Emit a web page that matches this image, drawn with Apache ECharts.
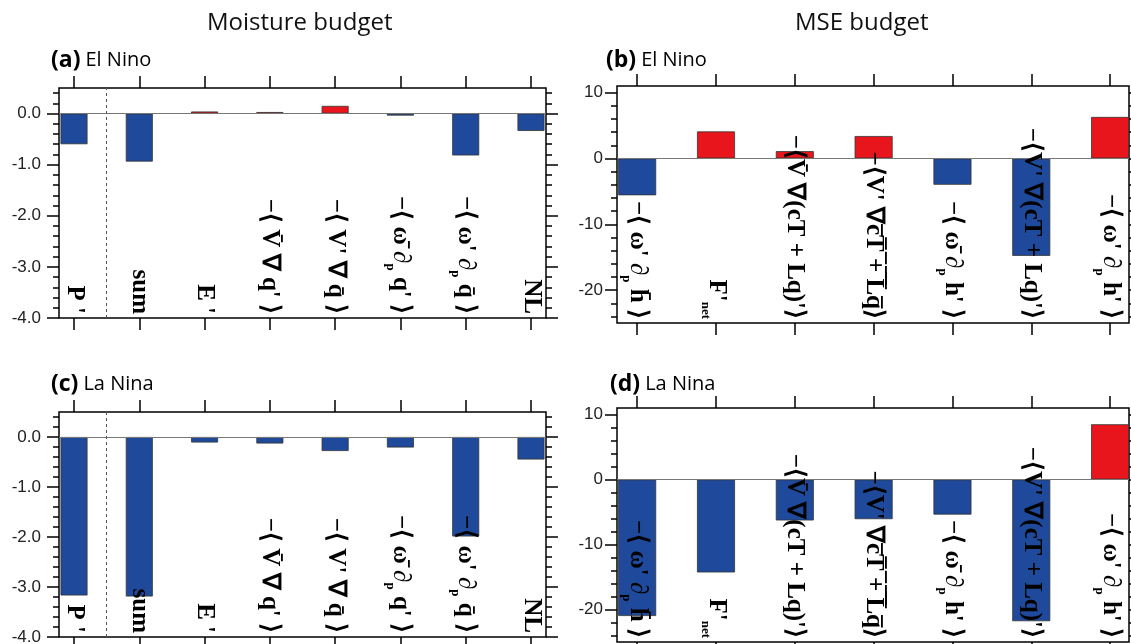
<!DOCTYPE html>
<html>
<head>
<meta charset="utf-8">
<title>Moisture and MSE budget</title>
<script src="https://cdn.jsdelivr.net/npm/echarts@6.0.0/dist/echarts.min.js"></script>
<style>
  html, body { margin: 0; padding: 0; background: #fff; }
  #main { width: 1131px; height: 644px; }
</style>
</head>
<body>
<div id="main"></div>
<script type="text/javascript">
// category labels (rich text, {s|..} = subscript)
var moistCats = ["P '", "sum", "E '", "−⟨ V̄ ∇ q' ⟩", "−⟨ V' ∇ q̄ ⟩", "−⟨ ω̄ ∂{s|p} q' ⟩", "−⟨ ω' ∂{s|p} q̄ ⟩", "NL"];
var mseCats = ["−⟨ ω' ∂{s|p} h̄ ⟩", "F'{s|net}", "−⟨V̄ ∇(cT + Lq)'⟩", "−⟨V' ∇c̅T̅ ̅+̅ ̅L̅q̅⟩", "−⟨ ω̄ ∂{s|p} h' ⟩", "−⟨V' ∇(cT + Lq)'⟩", "−⟨ ω' ∂{s|p} h' ⟩"];

// bar values
var elNinoMoist = [-0.60, -0.94, 0.04, 0.03, 0.15, -0.04, -0.82, -0.34];
var laNinaMoist = [-3.17, -3.19, -0.11, -0.13, -0.28, -0.21, -1.99, -0.45];
var elNinoMSE = [-5.6, 4.1, 1.1, 3.4, -4.0, -14.8, 6.3];
var laNinaMSE = [-21.0, -14.3, -6.3, -6.1, -5.4, -21.8, 8.5];

// y ticks
var moistTicks = [0, -1, -2, -3, -4];
var moistMinor = [0.4, 0.2, -0.2, -0.4, -0.6, -0.8, -1.2, -1.4, -1.6, -1.8, -2.2, -2.4, -2.6, -2.8, -3.2, -3.4, -3.6, -3.8];
var mseTicks = [10, 0, -10, -20];
var mseMinor = [8, 6, 4, 2, -2, -4, -6, -8, -12, -14, -16, -18, -22, -24];

var RED = '#e8161c', BLUE = '#1f4a9b';

var panels = [
  { cats: moistCats, vals: elNinoMoist, grid: { left: 59, top: 88, width: 487, height: 230 },
    xr: [-0.23, 7.23], yr: [-4, 0.5], ticks: moistTicks, minor: moistMinor, bw: 27, fix: 1, lm: 18, dash: true },
  { cats: mseCats, vals: elNinoMSE, grid: { left: 617, top: 86, width: 512, height: 237 },
    xr: [-0.256, 6.24], yr: [-25, 11], ticks: mseTicks, minor: mseMinor, bw: 38, fix: 0, lm: 14, dash: false },
  { cats: moistCats, vals: laNinaMoist, grid: { left: 59, top: 412, width: 487, height: 225 },
    xr: [-0.23, 7.23], yr: [-4, 0.5], ticks: moistTicks, minor: moistMinor, bw: 27, fix: 1, lm: 18, dash: true },
  { cats: mseCats, vals: laNinaMSE, grid: { left: 617, top: 408, width: 512, height: 234 },
    xr: [-0.256, 6.24], yr: [-25, 11], ticks: mseTicks, minor: mseMinor, bw: 38, fix: 0, lm: 14, dash: false }
];

var grids = [], xAxes = [], yAxes = [], series = [];
var tickStyle = { color: '#000', width: 1.5 };
var noLine = { show: false, onZero: false };

panels.forEach(function (p, g) {
  var idx = p.cats.map(function (c, i) { return i; });
  grids.push(Object.assign({ show: true, borderColor: '#000', borderWidth: 1.5,
    backgroundColor: 'transparent', outerBoundsMode: 'none' }, p.grid));

  var xb = xAxes.length;
  xAxes.push({
    type: 'value', gridIndex: g, min: p.xr[0], max: p.xr[1], position: 'bottom', z: 10,
    axisLine: noLine, splitLine: { show: false },
    axisTick: { customValues: idx, length: 12, lineStyle: tickStyle },
    axisLabel: {
      customValues: idx, inside: true, rotate: -90, margin: 4,
      fontFamily: 'Liberation Serif', fontWeight: 'bold', fontSize: 25, color: '#000',
      formatter: function (v) { return p.cats[Math.round(v)]; },
      rich: { s: { fontFamily: 'Liberation Serif', fontWeight: 'bold', fontSize: 13, verticalAlign: 'bottom', lineHeight: 34 } }
    }
  });
  xAxes.push({
    type: 'value', gridIndex: g, min: p.xr[0], max: p.xr[1], position: 'top',
    axisLine: noLine, splitLine: { show: false },
    axisTick: { customValues: idx, length: 12, lineStyle: tickStyle },
    axisLabel: { show: false }
  });

  var yl = yAxes.length;
  yAxes.push({
    type: 'value', gridIndex: g, min: p.yr[0], max: p.yr[1], position: 'left',
    axisLine: noLine, splitLine: { show: false },
    axisTick: { show: true, customValues: p.ticks, length: 12, lineStyle: tickStyle },
    axisLabel: { customValues: p.ticks, margin: p.lm, fontFamily: 'Liberation Sans', fontSize: 17, color: '#222',
      formatter: function (v) { return v.toFixed(p.fix); } }
  });
  yAxes.push({
    type: 'value', gridIndex: g, min: p.yr[0], max: p.yr[1], position: 'left',
    axisLine: noLine, splitLine: { show: false },
    axisTick: { show: true, customValues: p.minor, length: 6, lineStyle: tickStyle },
    axisLabel: { show: false }
  });
  yAxes.push({
    type: 'value', gridIndex: g, min: p.yr[0], max: p.yr[1], position: 'right',
    axisLine: noLine, splitLine: { show: false },
    axisTick: { show: true, customValues: p.ticks, length: 12, lineStyle: tickStyle },
    axisLabel: { show: false }
  });
  yAxes.push({
    type: 'value', gridIndex: g, min: p.yr[0], max: p.yr[1], position: 'right',
    axisLine: noLine, splitLine: { show: false },
    axisTick: { show: true, customValues: p.minor, length: 6, lineStyle: tickStyle },
    axisLabel: { show: false }
  });

  var ml = [{ yAxis: 0, lineStyle: { color: '#777', width: 1, type: 'solid' } }];
  if (p.dash) ml.push({ xAxis: 0.5, lineStyle: { color: '#555', width: 1, type: [3, 3] } });

  series.push({
    type: 'bar', xAxisIndex: xb, yAxisIndex: yl, barWidth: p.bw,
    data: p.vals.map(function (v, i) { return [i, v]; }),
    itemStyle: {
      color: function (prm) { return prm.value[1] >= 0 ? RED : BLUE; },
      borderColor: '#333', borderWidth: 0.8
    },
    markLine: { silent: true, symbol: ['none', 'none'], label: { show: false }, data: ml },
    animation: false
  });
});

var heading = { fontFamily: 'Open Sans', fontSize: 24, fontWeight: 'normal', color: '#111' };
var tag = {
  b: { fontFamily: 'Open Sans', fontWeight: 'bold', fontSize: 23, color: '#000' },
  n: { fontFamily: 'Open Sans', fontWeight: 'normal', fontSize: 20, color: '#000' }
};

var option = {
  backgroundColor: '#fff',
  animation: false,
  title: [
    { text: 'Moisture budget', left: 202, top: 6, textStyle: heading },
    { text: 'MSE budget', left: 790, top: 6, textStyle: heading },
    { text: '{b|(a)} {n|El Nino}', left: 46, top: 44, textStyle: { rich: tag } },
    { text: '{b|(b)} {n|El Nino}', left: 601, top: 44, textStyle: { rich: tag } },
    { text: '{b|(c)} {n|La Nina}', left: 46, top: 368, textStyle: { rich: tag } },
    { text: '{b|(d)} {n|La Nina}', left: 605, top: 368, textStyle: { rich: tag } }
  ],
  grid: grids,
  xAxis: xAxes,
  yAxis: yAxes,
  series: series
};

var myChart = echarts.init(document.getElementById('main'));
myChart.setOption(option);
</script>
</body>
</html>
